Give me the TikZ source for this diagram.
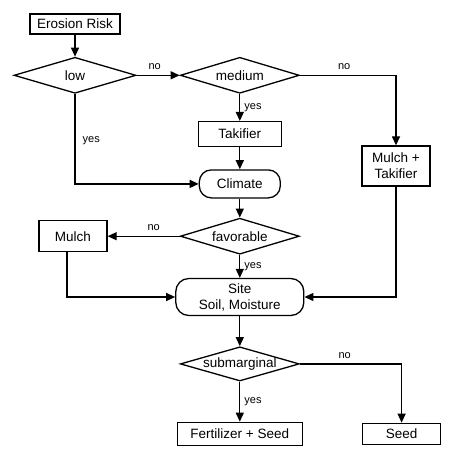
\documentclass[tikz,border=0pt]{standalone}
\usepackage{fontspec}
\setmainfont{Liberation Sans}
\usepackage{tikz}
\usetikzlibrary{arrows.meta,positioning,shapes.geometric}
\newcommand{\actbox}[3]{%
  \node[draw, line width=1.3pt, align=center, inner sep=2pt, #3] (#1) {#2};}
\newcommand{\askbox}[3]{%
  \node[draw, diamond, line width=1.3pt, shape aspect=3.4, inner sep=0pt,
        minimum width=119pt, minimum height=36pt, #3] (#1) {#2};}
\tikzset{lbl/.style={font=\fontsize{11}{13}\selectfont, inner sep=1pt}}

\begin{document}
\begin{tikzpicture}[x=1pt, y=1pt, node distance=22pt and 43pt, >={Triangle[length=9pt,width=8pt]},
    font=\fontsize{13.5}{16}\selectfont]
    \useasboundingbox (0,0) rectangle (452,-457);
    \actbox{erosion}{Erosion Risk}{minimum width=90pt, minimum height=20pt, at={(75,-24)}}
    \askbox{low}{low}{below=of erosion, minimum width=122pt}
    \askbox{medium}{medium}{right=of low}
    \actbox{takifier}{Takifier}{minimum width=83pt, minimum height=25pt, below=27pt of medium}
    \actbox{climate}{Climate}{minimum width=81pt, minimum height=28pt, below=22pt of takifier, rounded corners=12pt}
    \actbox{mt}{Mulch +\\Takifier}{minimum width=68pt, minimum height=40pt, at={(396,-166)}}
    \askbox{favorable}{favorable}{below=19pt of climate}
    \actbox{mulch}{Mulch}{minimum width=68pt, minimum height=31pt, left=72pt of favorable}
    \actbox{site}{Site\\Soil, Moisture}{minimum width=128pt, minimum height=37pt, below=23pt of favorable, rounded corners=13pt}
    \askbox{submarginal}{submarginal}{below=30pt of site, minimum height=34pt}
    \actbox{fertseed}{Fertilizer + Seed}{minimum width=125pt, minimum height=23pt, below=40pt of submarginal}
    \actbox{seed}{Seed}{minimum width=78pt, minimum height=21pt, right=59pt of fertseed}
    \draw[->,line width=1.3pt] (erosion) -- (low);
    \draw[->,line width=1.3pt] (low) -- node[lbl, above=4pt, pos=0.42] (lowno) {no} (medium);
    \draw[->,line width=1.3pt] (low) |- node[lbl, right=6pt, pos=0.26] (lowyes) {yes} (climate);
    \draw[->,line width=1.3pt] (medium) -| node[lbl, above=4pt, pos=0.23] (mediumno) {no} (mt);
    \draw[->,line width=1.3pt] (medium) -- node[lbl, right=3pt] (mediumyes) {yes} (takifier);
    \draw[->,line width=1.3pt] (takifier) -- (climate);
    \draw[->,line width=1.3pt] (climate) -- (favorable);
    \draw[->,line width=1.3pt] (favorable) -- node[lbl, above=4pt, pos=0.36] (favorableno) {no} (mulch);
    \draw[->,line width=1.3pt] (favorable) -- node[lbl, right=3pt] (favorableyes) {yes} (site);
    \draw[->,line width=1.3pt] ([xshift=-6pt]mulch.south) |- (site);
    \draw[->,line width=1.3pt] (mt) |- (site);
    \draw[->,line width=1.3pt] (site) -- (submarginal);
    \draw[->,line width=1.3pt] (submarginal) -- node[lbl, right=3pt] (submarginalyes) {yes} (fertseed);
    \draw[->,line width=1.3pt] (submarginal) -| node[lbl, above=4pt, pos=0.22] (submarginalno) {no} (seed);
  \end{tikzpicture}
\end{document}
